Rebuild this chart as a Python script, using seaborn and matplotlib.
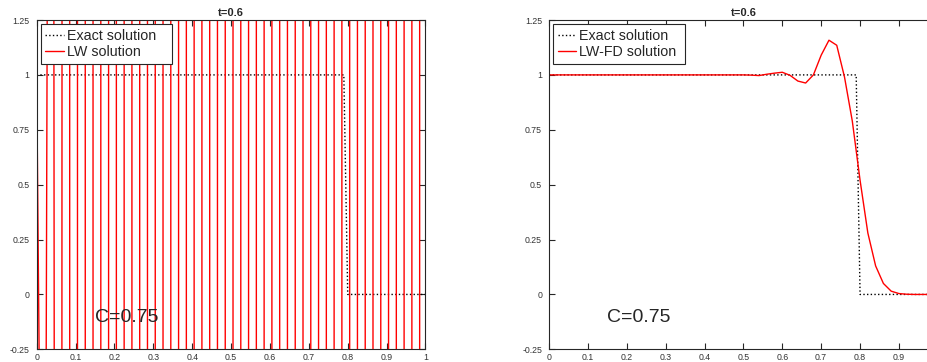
import numpy as np
import matplotlib
matplotlib.use("Agg")
import matplotlib.pyplot as plt
import seaborn as sns
import pandas as pd

# grid used by both schemes (dx = 0.02)
grid_x = np.linspace(0.0, 1.0, 51)

# exact step solution, sampled on a finer grid
exact_x = [0.0, 0.79, 0.80, 1.0]
exact_u = [1.0, 1.0, 0.0, 0.0]

# LW solution: blown-up, sign-alternating values
lw_u = [1.0, -3.0, 9.0, -27.0, 81.0, -243.0, 729.0, -2187.0, 6561.0, -19683.0,
        5.90e4, -1.77e5, 5.31e5, -1.59e6, 4.78e6, -1.43e7, 4.30e7, -1.29e8, 3.87e8, -1.16e9,
        3.49e9, -1.05e10, 3.14e10, -9.41e10, 2.82e11, -8.47e11, 2.54e12, -7.63e12, 2.29e13, -6.86e13,
        2.06e14, -6.18e14, 1.85e15, -5.56e15, 1.67e16, -5.00e16, 1.50e17, -4.50e17, 1.35e18, -4.05e18,
        1.22e19, -3.65e19, 1.09e20, -3.28e20, 9.85e20, -2.95e21, 8.86e21, -2.66e22, 7.98e22, -2.39e23,
        7.18e23]

# LW-FD solution
lwfd_u = [1.0, 1.0, 1.0, 1.0, 1.0, 1.0, 1.0, 1.0, 1.0, 1.0,
          1.0, 1.0, 1.0, 1.0, 1.0, 1.0, 1.0, 1.0, 1.0, 1.0,
          1.0, 1.0, 1.0, 1.0, 1.0, 1.0, 0.999, 0.997, 1.003, 1.008,
          1.012, 0.998, 0.972, 0.963, 1.0, 1.09, 1.158, 1.135, 0.99, 0.79,
          0.52, 0.28, 0.13, 0.05, 0.015, 0.004, 0.001, 0.0, 0.0, 0.0,
          0.0]

xticks = [0, 0.1, 0.2, 0.3, 0.4, 0.5, 0.6, 0.7, 0.8, 0.9, 1]
xlabels = ["0", "0.1", "0.2", "0.3", "0.4", "0.5", "0.6", "0.7", "0.8", "0.9", "1"]
yticks = [-0.25, 0, 0.25, 0.5, 0.75, 1, 1.25]
ylabels = ["-0.25", "0", "0.25", "0.5", "0.75", "1", "1.25"]

sns.set_style("ticks")
plt.rcParams['font.family'] = ['Liberation Sans', 'DejaVu Sans']

fig = plt.figure(figsize=(9.28, 3.62), dpi=100)
ax1 = fig.add_axes([0.0395, 0.035, 0.419, 0.9097])
ax2 = fig.add_axes([0.5916, 0.035, 0.419, 0.9097])

exact_df = pd.DataFrame({"x": exact_x, "u": exact_u})
lw_df = pd.DataFrame({"x": grid_x, "u": lw_u})
lwfd_df = pd.DataFrame({"x": grid_x, "u": lwfd_u})

# trailing spaces mimic the wide right padding of the original legend box
for ax, num_df, name in [(ax1, lw_df, "LW solution"), (ax2, lwfd_df, "LW-FD solution")]:
    sns.lineplot(data=exact_df, x="x", y="u", ax=ax, color="black", linestyle=":",
                 linewidth=1.0, sort=False, estimator=None, label="Exact solution   ")
    sns.lineplot(data=num_df, x="x", y="u", ax=ax, color="red", linewidth=1.0,
                 sort=False, estimator=None, label=name)
    ax.set_xlim(0, 1)
    ax.set_ylim(-0.25, 1.25)
    ax.set_yticks(yticks, ylabels)
    ax.set_xlabel("")
    ax.set_ylabel("")
    ax.tick_params(direction="in", length=4, width=0.8, colors="#262626",
                   labelcolor="#333333", labelsize=6.3, top=True, right=True)
    ax.tick_params(axis="x", pad=2.5)
    ax.tick_params(axis="y", pad=5)
    for sp in ax.spines.values():
        sp.set_visible(True)
        sp.set_color("#262626")
        sp.set_linewidth(0.8)
    ax.set_title("t=0.6", fontsize=8, fontweight="bold", pad=3)
    ax.text(0.15, -0.105, "C=0.75", fontsize=14, ha="left", va="center")
    leg = ax.legend(loc="upper left", fontsize=10.3, handlelength=1.3,
                    handletextpad=0.2, labelspacing=0.2, borderaxespad=0.3,
                    borderpad=0.3, fancybox=False, framealpha=1)
    leg.get_frame().set_edgecolor("#262626")
    leg.get_frame().set_linewidth(0.8)

ax1.set_xticks(xticks, xlabels)
# the right panel runs past the figure edge, so its "1" label is not shown
ax2.set_xticks(xticks, xlabels[:-1] + [""])

fig.savefig("out.png", dpi=100)
